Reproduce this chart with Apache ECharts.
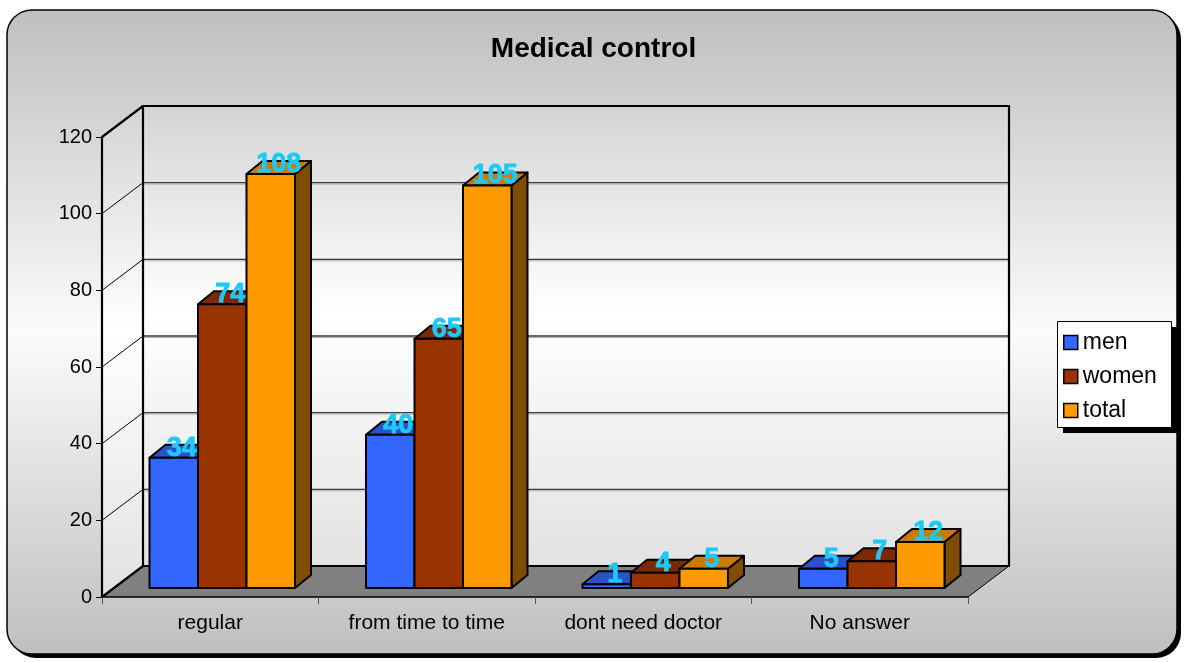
<!DOCTYPE html>
<html>
<head>
<meta charset="utf-8">
<script src="https://cdn.jsdelivr.net/npm/echarts@6/dist/echarts.min.js"></script>
<style>
  html, body { margin: 0; padding: 0; background: #fff; }
  #chart { width: 1187px; height: 662px; }
</style>
</head>
<body>
<div id="chart"></div>
<script>
const categories = ['regular', 'from time to time', 'dont need doctor', 'No answer']
const men = [34, 40, 1, 5]
const women = [74, 65, 4, 7]
const total = [108, 105, 5, 12]
const yTicks = [0, 20, 40, 60, 80, 100, 120]

const FONT = '"Liberation Sans", Arial, sans-serif'
// front / top / side shades for each series
const shades = [
  { front: '#3366ff', top: '#2952cc', side: '#1f3d99' },
  { front: '#993300', top: '#7a2900', side: '#5c1f00' },
  { front: '#ff9900', top: '#cc7a00', side: '#804d00' }
]
const WALL_DX = 41, WALL_DY = -31

function renderWalls(params, api) {
  const cs = params.coordSys
  const x0 = cs.x, x1 = cs.x + cs.width
  const yt = cs.y, yb = cs.y + cs.height
  const dx = WALL_DX, dy = WALL_DY
  const wallFill = new echarts.graphic.LinearGradient(0, 0, 0, 1, [
    { offset: 0, color: '#d4d4d4' },
    { offset: 0.45, color: '#ffffff' },
    { offset: 1, color: '#e2e2e2' }
  ])
  const children = []
  children.push({ type: 'rect', shape: { x: x0 + dx, y: yt + dy, width: cs.width, height: cs.height }, style: { fill: wallFill } })
  children.push({ type: 'polygon', shape: { points: [[x0, yt], [x0 + dx, yt + dy], [x0 + dx, yb + dy], [x0, yb]] }, style: { fill: wallFill } })
  children.push({ type: 'polygon', shape: { points: [[x0, yb], [x1, yb], [x1 + dx, yb + dy], [x0 + dx, yb + dy]] }, style: { fill: '#808080' } })
  yTicks.forEach(v => {
    const y = api.coord([0, v])[1]
    const edge = v === yTicks[0] || v === yTicks[yTicks.length - 1]
    if (!edge) {
      children.push({ type: 'line', shape: { x1: x0 + dx, y1: y + dy + 1.5, x2: x1 + dx, y2: y + dy + 1.5 }, style: { stroke: '#b0b0b0', lineWidth: 1 } })
      children.push({ type: 'line', shape: { x1: x0 + dx, y1: y + dy, x2: x1 + dx, y2: y + dy }, style: { stroke: '#3a3a3a', lineWidth: 1.3 } })
    }
    children.push({ type: 'line', shape: { x1: x0, y1: y, x2: x0 + dx, y2: y + dy }, style: { stroke: '#000', lineWidth: edge ? 2.2 : 1 } })
  })
  // wall edges
  children.push({ type: 'polyline', shape: { points: [[x0 + dx, yb + dy], [x0 + dx, yt + dy], [x1 + dx, yt + dy], [x1 + dx, yb + dy], [x0 + dx, yb + dy]] }, style: { stroke: '#000', lineWidth: 2.2, fill: null } })
  children.push({ type: 'line', shape: { x1: x1, y1: yb, x2: x1 + dx, y2: yb + dy }, style: { stroke: '#000', lineWidth: 1 } })
  return { type: 'group', children }
}

function makeBarRenderer(i) {
  const c = shades[i]
  return function (params, api) {
    const ci = api.value(0)
    const v = api.value(1)
    const base = api.coord([ci, 0])
    const top = api.coord([ci, v])
    const w = api.size([1, 0])[0] * 0.224
    const x = base[0] + 12 - 1.5 * w + i * w
    const yb = base[1] - 9
    const yt = top[1] - 9
    const ddx = 16, ddy = -13
    const line = { stroke: '#000', lineWidth: 2, lineJoin: 'round' }
    return {
      type: 'group',
      children: [
        { type: 'polygon', shape: { points: [[x + w, yt], [x + w + ddx, yt + ddy], [x + w + ddx, yb + ddy], [x + w, yb]] }, style: Object.assign({ fill: c.side }, line) },
        { type: 'polygon', shape: { points: [[x, yt], [x + w, yt], [x + w + ddx, yt + ddy], [x + ddx, yt + ddy]] }, style: Object.assign({ fill: c.top }, line) },
        { type: 'rect', shape: { x: x, y: yt, width: w, height: yb - yt }, style: Object.assign({ fill: c.front }, line) },
        {
          type: 'text', z2: 100,
          style: {
            x: x + w / 2 + 8, y: yt + 4, text: String(v),
            align: 'center', verticalAlign: 'bottom',
            font: 'bold 27px ' + FONT, fill: '#1ec8f8',
            stroke: '#1ec8f8', lineWidth: 0.8
          }
        }
      ]
    }
  }
}

const chart = echarts.init(document.getElementById('chart'), null, { renderer: 'canvas' })
const seriesData = [men, women, total]
const names = ['men', 'women', 'total']

chart.setOption({
  backgroundColor: '#ffffff',
  animation: false,
  graphic: [
    // chart frame shadow + frame
    { type: 'rect', z: -10, shape: { x: 11, y: 14, width: 1170, height: 644, r: 25 }, style: { fill: '#000' } },
    {
      type: 'rect', z: -9,
      shape: { x: 7, y: 10, width: 1170, height: 644, r: 25 },
      style: {
        fill: new echarts.graphic.LinearGradient(0, 0, 0, 1, [
          { offset: 0, color: '#bfbfbf' },
          { offset: 0.5, color: '#fbfbfb' },
          { offset: 1, color: '#bfbfbf' }
        ]),
        stroke: '#000', lineWidth: 1.5
      }
    },
    // legend box shadow + box
    { type: 'rect', z: 3, shape: { x: 1063, y: 327, width: 114, height: 106 }, style: { fill: '#000' } },
    { type: 'rect', z: 3, shape: { x: 1057.5, y: 321.5, width: 114, height: 106 }, style: { fill: '#fff', stroke: '#000', lineWidth: 1 } }
  ],
  title: {
    text: 'Medical control',
    left: 'center', top: 30,
    textStyle: { fontFamily: FONT, fontSize: 28, fontWeight: 'bold', color: '#000' }
  },
  legend: {
    data: names,
    orient: 'vertical',
    left: 1057, top: 321,
    padding: [10, 14, 8, 6],
    itemWidth: 14, itemHeight: 14, itemGap: 11,
    z: 4,
    icon: 'rect',
    itemStyle: { borderColor: '#000', borderWidth: 1.5 },
    textStyle: { fontFamily: FONT, fontSize: 23, lineHeight: 23, color: '#000' }
  },
  grid: { left: 102, right: 219, top: 137, bottom: 65 },
  xAxis: {
    type: 'category',
    data: categories,
    z: 5,
    axisLine: { lineStyle: { color: '#000', width: 1.5 } },
    axisTick: { show: true, length: 7, lineStyle: { color: '#555' } },
    axisLabel: { color: '#000', fontFamily: FONT, fontSize: 21, margin: 16 },
    splitLine: { show: false }
  },
  yAxis: {
    type: 'value',
    min: 0, max: 120, interval: 20,
    z: 5,
    axisLine: { show: true, lineStyle: { color: '#000', width: 2.2 } },
    axisTick: { show: true, length: 6, lineStyle: { color: '#000' } },
    axisLabel: { color: '#000', fontFamily: FONT, fontSize: 20, margin: 10 },
    splitLine: { show: false }
  },
  series: [
    {
      type: 'custom', name: 'walls', z: 1, silent: true, clip: false,
      renderItem: renderWalls,
      data: [[0, 0]]
    }
  ].concat(seriesData.map((arr, i) => ({
    type: 'custom',
    name: names[i],
    z: 2,
    clip: false,
    itemStyle: { color: shades[i].front, borderColor: '#000', borderWidth: 1.5 },
    renderItem: makeBarRenderer(i),
    data: categories.map((c, k) => [k, arr[k]])
  })))
})
</script>
</body>
</html>
